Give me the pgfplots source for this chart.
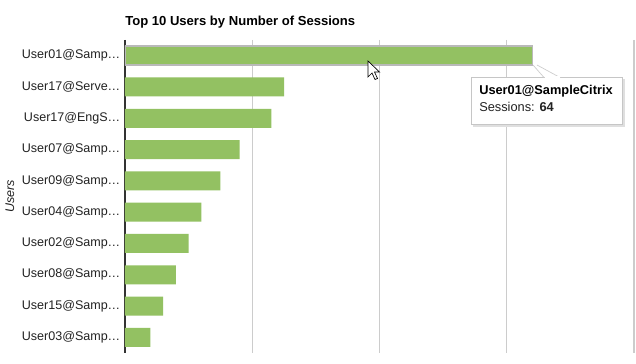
\documentclass[border=0pt]{standalone}
\usepackage{pgfplots}
\pgfplotsset{compat=1.18}
\usepackage{fontspec}
\setmainfont{Liberation Sans}
\definecolor{bargreen}{RGB}{147,193,98}
\definecolor{gridgray}{RGB}{204,204,204}
\definecolor{txt}{RGB}{34,34,34}
\begin{document}
\begin{tikzpicture}[x=0.75pt,y=0.75pt]
\fill[white] (0,0) rectangle (636,364);
\coordinate (A) at (125,324);
\node[anchor=west, font=\fontsize{9.8}{12}\selectfont\bfseries, text=black, inner sep=0] at (125,342) {Top 10 Users by Number of Sessions};
\begin{axis}[
  at={(A)}, anchor=north west, scale only axis,
  width=381.75pt, height=234.75pt,
  xbar, bar width=14.25pt, bar shift=0pt,
  xmin=0, xmax=80, ymin=-0.5, ymax=9.5, y dir=reverse,
  axis line style={draw=none},
  xtick={20,40,60,80}, xticklabels={}, xmajorgrids,
  grid style={gridgray, line width=0.8pt},
  extra x ticks={0}, extra x tick labels={},
  extra x tick style={grid style={black!80, line width=0.9pt}},
  ytick={0,...,9},
  yticklabels={User01@Samp…,User17@Serve…,User17@EngS…,User07@Samp…,User09@Samp…,User04@Samp…,User02@Samp…,User08@Samp…,User15@Samp…,User03@Samp…},
  major tick length=0pt,
  yticklabel style={font=\fontsize{9.4}{11}\selectfont, text=txt},
  ylabel={Users},
  ylabel style={at={(axis description cs:0,0.5)}, anchor=center, yshift=86.25pt, font=\fontsize{9.4}{11}\selectfont\itshape, text=txt},
]
\addplot[fill=bargreen, draw=none] coordinates {(64,0) (25,1) (23,2) (18,3) (15,4) (12,5) (10,6) (8,7) (6,8) (4,9)};
\addplot[fill=bargreen, draw=gray!55, line width=1pt] coordinates {(64,0)};
\end{axis}
% tooltip
\fill[gray!25] (473,285) rectangle (625,237);
\filldraw[fill=white, draw=gray!45, line width=0.6pt] (471,287) rectangle (622,240);
\filldraw[fill=white, draw=gray!40, line width=0.5pt] (533,299) -- (544,286.5) -- (560,286.5) -- (537,299);
\draw[white, line width=1pt] (544.5,287) -- (559.5,287);
\node[anchor=west, inner sep=0, font=\fontsize{9.6}{11}\selectfont\bfseries, text=black] at (479,273) {User01@SampleCitrix};
\node[anchor=west, inner sep=0, font=\fontsize{9.6}{11}\selectfont, text=txt] at (479,257) {Sessions: \textbf{64}};
% cursor
\filldraw[fill=white, draw=black, line width=0.5pt, shift={(368,303)}] (0,0) -- (0,-16) -- (4,-12) -- (7,-18.5) -- (9.5,-17.5) -- (6.5,-11) -- (11.5,-11) -- cycle;
\pgfresetboundingbox
\useasboundingbox (0,0) rectangle (636,364);
\end{tikzpicture}
\end{document}
